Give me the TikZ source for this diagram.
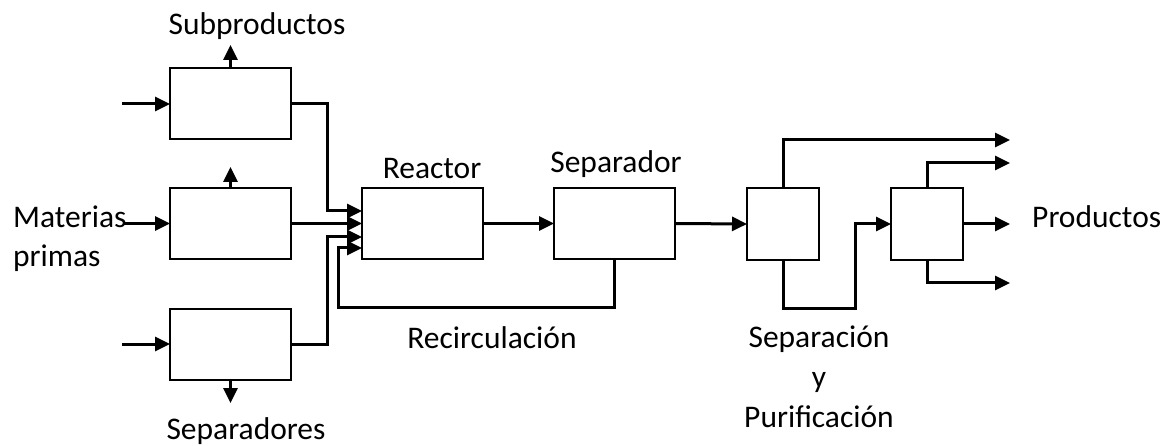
\documentclass[tikz,border=0pt]{standalone}
\usepackage{fontspec}
\setmainfont{Carlito}
\usetikzlibrary{arrows.meta}
\begin{document}
\begin{tikzpicture}[x=1pt,y=-1pt,
  unit/.style={draw,line width=2pt,inner sep=0pt,outer sep=0pt,
               minimum width=121pt,minimum height=71pt},
  squnit/.style={unit,minimum width=72pt,minimum height=72pt},
  flow/.style={line width=3pt,-{Triangle[length=15pt,width=14pt]}},
  lbl/.style={inner sep=0pt,font=\fontsize{31.5}{38}\selectfont}
]
\useasboundingbox (0,0) rectangle (1164,446);

% process units
\node[unit] (b1) at (230.5,104) {};
\node[unit] (b2) at (230.5,223.5) {};
\node[unit] (b3) at (230.5,344) {};
\node[unit] (reactor) at (422.5,223.5) {};
\node[unit] (sep) at (614.5,223.5) {};
\node[squnit] (pur1) at (783,224) {};
\node[squnit] (pur2) at (927,224) {};

% free ends and bends
\coordinate (in1) at (122,104);
\coordinate (in2) at (124,223.5);
\coordinate (in3) at (122,344);
\coordinate (up1) at (230.5,45);
\coordinate (up2) at (230.5,167);
\coordinate (dn3) at (230.5,403);
\coordinate (j1) at (327,211);
\coordinate (j3) at (327,237);
\coordinate (r1) at (338,307);
\coordinate (k1) at (855,308);
\coordinate (o1) at (1010,140);
\coordinate (o2) at (1010,163);
\coordinate (o3) at (1010,224);
\coordinate (o4) at (1010,283);

% feeds
\draw[flow] (in1) -- (b1.west);
\draw[flow] (in2) -- (b2.west);
\draw[flow] (in3) -- (b3.west);
\draw[flow] (b1.north) -- (up1);
\draw[flow] (b2.north) -- (up2);
\draw[flow] (b3.south) -- (dn3);

% into the reactor
\draw[flow] (b1.east) -| (j1) -- ([yshift=12.5pt]reactor.west);
\draw[flow] (b2.east) -- (reactor.west);
\draw[flow] (b3.east) -| (j3) -- ([yshift=-13.5pt]reactor.west);
\draw[flow] (sep.south) |- (r1) |- ([yshift=-24.5pt]reactor.west);

% main line
\draw[flow] (reactor.east) -- (sep.west);
\draw[flow] (sep.east) -- (pur1.west);
\draw[flow] (pur1.north) |- (o1);
\draw[flow] (pur1.south) |- (k1) |- (pur2.west);
\draw[flow] (pur2.north) |- (o2);
\draw[flow] (pur2.east) -- (o3);
\draw[flow] (pur2.south) |- (o4);

% labels
\node[lbl,anchor=base] (tsub) at (257,35) {Subproductos};
\node[lbl,anchor=base west] (tmat) at (13,228) {Materias};
\node[lbl,anchor=base west] (tpri) at (13,267) {primas};
\node[lbl,anchor=base] (trea) at (432,179) {Reactor};
\node[lbl,anchor=base] (tsep) at (616,173) {Separador};
\node[lbl,anchor=base] (trec) at (492,348) {Recirculación};
\node[lbl,anchor=base] (tsp1) at (819,347) {Separación};
\node[lbl,anchor=base] (tsp2) at (819,387) {y};
\node[lbl,anchor=base] (tsp3) at (819,427) {Purificación};
\node[lbl,anchor=base west] (tpro) at (1032,228) {Productos};
\node[lbl,anchor=base] (tsps) at (246,439) {Separadores};
\end{tikzpicture}
\end{document}
